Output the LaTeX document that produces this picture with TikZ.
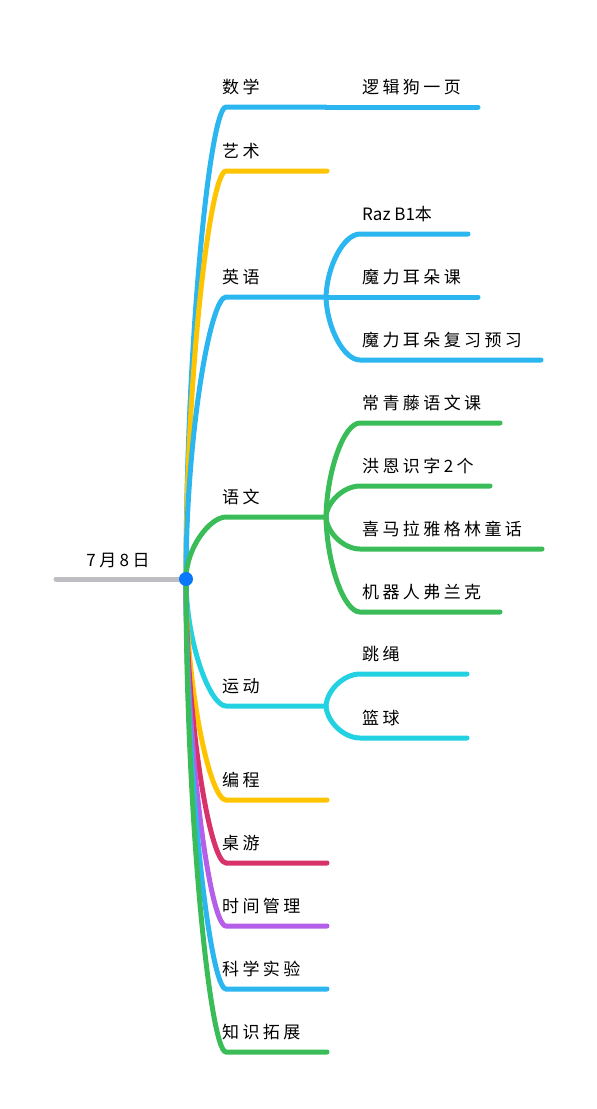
\documentclass[tikz,border=0pt]{standalone}
\usepackage{fontspec}
\newfontfamily\cjk[LetterSpace=20]{Noto Sans CJK SC}
\newfontfamily\cjkn{Noto Sans CJK SC}
\definecolor{cblue}{RGB}{44,182,240}
\definecolor{cyellow}{RGB}{255,196,0}
\definecolor{cgreen}{RGB}{58,189,88}
\definecolor{ccyan}{RGB}{34,210,226}
\definecolor{ccrim}{RGB}{215,51,104}
\definecolor{cpurp}{RGB}{181,94,232}
\definecolor{cgray}{RGB}{190,190,194}
\definecolor{cdot}{RGB}{10,120,250}
\begin{document}
\begin{tikzpicture}[x=1pt,y=-1pt,
  br/.style={line width=5pt, line cap=round},
  lbl/.style={anchor=west, inner sep=0pt, font=\cjk\fontsize{17}{17}\selectfont}]
\useasboundingbox (0,0) rectangle (597,1109);
\coordinate (r) at (186,579);
\coordinate (g) at (56,579);
\draw[br,cgray] (g) -- (r);
\node[lbl,anchor=center] (rl) at (118,560) {7月8日};
\foreach \n/\y/\e/\c/\t in {
 sx/107/326/cblue/数学, ys/171/327/cyellow/艺术, yy/297/326/cblue/英语,
 yw/517/326/cgreen/语文, yd/706/326/ccyan/运动, bc/800/327/cyellow/编程,
 zy/863/327/ccrim/桌游, sj/926/327/cpurp/时间管理, kx/989/327/cblue/科学实验,
 zs/1052/327/cgreen/知识拓展}{
  \coordinate (\n-s) at (226,\y);
  \coordinate (\n-e) at (\e,\y);
  \draw[br,\c] (r) .. controls (186,{(579+\y)/2}) and (210,\y) .. (\n-s) -- (\n-e);
  \node[lbl] (\n-l) at (222,\y-20) {\t};
}
\foreach \p/\q/\n/\y/\e/\c/\t in {
 sx/107/c1/107/478/cblue/逻辑狗一页,
 yy/297/c2/234/468/cblue/{{\cjkn Raz B1}本},
 yy/297/c3/297/478/cblue/魔力耳朵课,
 yy/297/c4/360/541/cblue/魔力耳朵复习预习,
 yw/517/c5/423/500/cgreen/常青藤语文课,
 yw/517/c6/486/490/cgreen/洪恩识字2个,
 yw/517/c7/549/542/cgreen/喜马拉雅格林童话,
 yw/517/c8/612/500/cgreen/机器人弗兰克,
 yd/706/c9/674/467/ccyan/跳绳,
 yd/706/c10/738/467/ccyan/篮球}{
  \coordinate (\n-s) at (360,\y);
  \coordinate (\n-e) at (\e,\y);
  \draw[br,\c] (\p-e) .. controls (327,{(\q+\y)/2}) and (344,\y) .. (\n-s) -- (\n-e);
  \node[lbl] (\n-l) at (362,\y-20) {\t};
}
\fill[cdot] (r) circle (7);
\end{tikzpicture}
\end{document}
